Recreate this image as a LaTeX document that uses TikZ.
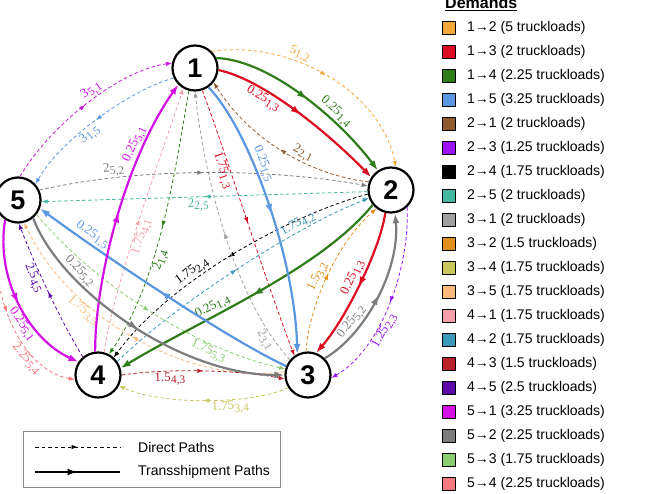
\documentclass[tikz,border=0pt]{standalone}
\usepackage{fontspec}
\setmainfont{Liberation Serif}
\setsansfont{Liberation Sans}
\usetikzlibrary{arrows.meta,decorations.markings}

\definecolor{c12}{HTML}{F5A83A}
\definecolor{c13}{HTML}{DC0C22}
\definecolor{c14}{HTML}{2E7D18}
\definecolor{c15}{HTML}{5B96E0}
\definecolor{c21}{HTML}{8E5A2E}
\definecolor{c23}{HTML}{9B14F2}
\definecolor{c24}{HTML}{000000}
\definecolor{c25}{HTML}{44B8A0}
\definecolor{c31}{HTML}{A0A0A0}
\definecolor{c32}{HTML}{E0901E}
\definecolor{c34}{HTML}{C8C65C}
\definecolor{c35}{HTML}{FCBB7C}
\definecolor{c41}{HTML}{F7A0AC}
\definecolor{c42}{HTML}{3A98B8}
\definecolor{c43}{HTML}{B8202A}
\definecolor{c45}{HTML}{5C0AA8}
\definecolor{c51}{HTML}{D210E6}
\definecolor{c52}{HTML}{7C7C7C}
\definecolor{c53}{HTML}{8CCC70}
\definecolor{c54}{HTML}{F47A80}
\definecolor{boxgray}{HTML}{8C8C8C}

\newcommand\lbl[2]{#1\raisebox{-0.45ex}{\fontsize{11.5}{12}\selectfont #2}}

\tikzset{
  city/.style={circle, draw=black, line width=2.2pt, fill=white, minimum size=45pt, inner sep=0pt,
    font=\sffamily\bfseries\fontsize{27}{27}\selectfont},
  smallmid/.style={postaction={decorate}, decoration={markings,
    mark=at position 0.5 with {\arrow{Latex[length=6pt,width=4.5pt]}}}},
  bigmid/.style={postaction={decorate}, decoration={markings,
    mark=at position 0.5 with {\arrow{Latex[length=10pt,width=7pt]}}}},
  direct/.style={line width=0.8pt, dash pattern=on 3.5pt off 2.5pt, smallmid, -{Latex[length=6pt,width=4.5pt]}},
  trans/.style={line width=2.2pt, bigmid, -{Latex[length=10pt,width=7pt]}},
  lab/.style={sloped, inner sep=1pt, font=\fontsize{13}{14}\selectfont},
  sq/.style={draw=black, line width=0.9pt, minimum size=13pt, inner sep=0pt},
  legtxt/.style={anchor=west, inner sep=0pt, font=\sffamily\fontsize{14}{16}\selectfont},
}

\begin{document}
\begin{tikzpicture}[x=1pt,y=-1pt]
\useasboundingbox (0,0) rectangle (670,494);

% cities
\node[city] (n1) at (195,68) {1};
\node[city] (n2) at (391,190) {2};
\node[city] (n3) at (308,375) {3};
\node[city] (n4) at (98,375) {4};
\node[city] (n5) at (18,200) {5};

% ---------- direct paths ----------
\draw[direct, c12] (n1.45) .. controls (290,40) and (380,90) .. (n2.78)
  node[lab, above, pos=0.36] {\lbl{5}{1,2}};
\draw[direct, c13] (n1.-72) .. controls (225,150) and (265,280) .. (n3.125)
  node[lab, below, pos=0.33] {\lbl{1.75}{1,3}};
\draw[direct, c14] (n1.-105) .. controls (175,170) and (160,280) .. (n4.62)
  node[lab, below, pos=0.62] {\lbl{2}{1,4}};
\draw[direct, c15] (n1.205) .. controls (130,90) and (60,140) .. (n5.42)
  node[lab, below, pos=0.58] {\lbl{3}{1,5}};
\draw[direct, c21] (n2.160) .. controls (310,175) and (250,140) .. (n1.-38)
  node[lab, above, pos=0.4] {\lbl{2}{2,1}};
\draw[direct, c23] (n2.-47) .. controls (410,270) and (380,350) .. (n3.-7)
  node[lab, below, pos=0.62] {\lbl{1.25}{2,3}};
\draw[direct, c24] (n2.190) .. controls (290,215) and (170,280) .. (n4.48)
  node[lab, above, pos=0.63] {\lbl{1.75}{2,4}};
\draw[direct, c25] (n2.184) -- (n5.-4)
  node[lab, below, pos=0.52] {\lbl{2}{2,5}};
\draw[direct, c31] (n3.140) .. controls (235,300) and (205,180) .. (n1.-90)
  node[lab, below, pos=0.12] {\lbl{2}{3,1}};
\draw[direct, c32] (n3.95) .. controls (310,300) and (340,240) .. (n2.232)
  node[lab, above, pos=0.45] {\lbl{1.5}{3,2}};
\draw[direct, c34] (n3.213) .. controls (250,405) and (160,405) .. (n4.-27)
  node[lab, below, pos=0.37] {\lbl{1.75}{3,4}};
\draw[direct, c35] (n3.172) .. controls (190,385) and (70,320) .. (n5.-75)
  node[lab, below, pos=0.68] {\lbl{1.75}{3,5}};
\draw[direct, c41] (n4.75) .. controls (115,280) and (160,160) .. (n1.240)
  node[lab, below, pos=0.45] {\lbl{1.75}{4,1}};
\draw[direct, c42] (n4.35) .. controls (180,300) and (300,225) .. (n2.200)
  node[lab, above=-1pt, pos=0.72] {\lbl{1.75}{4,2}};
\draw[direct, c43] (n4.0) .. controls (170,368) and (240,370) .. (n3.190)
  node[lab, below, pos=0.3] {\lbl{1.5}{4,3}};
\draw[direct, c45] (n4.130) .. controls (60,320) and (35,265) .. (n5.-88)
  node[lab, below, pos=0.62] {\lbl{2.5}{4,5}};
\draw[direct, c51] (n5.85) .. controls (50,125) and (120,70) .. (n1.168)
  node[lab, above, pos=0.55] {\lbl{3}{5,1}};
\draw[direct, c52] (n5.25) .. controls (150,165) and (280,170) .. (n2.170)
  node[lab, above, pos=0.22] {\lbl{2}{5,2}};
\draw[direct, c53] (n5.-38) .. controls (100,290) and (200,350) .. (n3.165)
  node[lab, below, pos=0.72] {\lbl{1.75}{5,3}};
\draw[direct, c54] (n5.215) .. controls (-15,290) and (20,370) .. (n4.191)
  node[lab, below, pos=0.7] {\lbl{2.25}{5,4}};

% ---------- transshipment paths ----------
\draw[trans, c14] (n1.25) .. controls (270,60) and (340,120) .. (n2.124)
  node[lab, above, pos=0.66] {\lbl{0.25}{1,4}};
\draw[trans, c13] (n1.-5) .. controls (265,80) and (330,135) .. (n2.147)
  node[lab, below, pos=0.32] {\lbl{0.25}{1,3}};
\draw[trans, c13] (n2.-104) .. controls (380,250) and (345,320) .. (n3.70)
  node[lab, above, pos=0.48] {\lbl{0.25}{1,3}};
\draw[trans, c52] (n3.45) .. controls (365,335) and (400,270) .. (n2.-80)
  node[lab, above, pos=0.3] {\lbl{0.25}{5,2}};
\draw[trans, c14] (n2.219) .. controls (320,270) and (200,320) .. (n4.17)
  node[lab, above, pos=0.64] {\lbl{0.25}{1,4}};
\draw[trans, c15] (n1.-55) .. controls (250,130) and (295,260) .. (n3.117)
  node[lab, above, pos=0.38] {\lbl{0.25}{1,5}};
\draw[trans, c15] (n3.158) .. controls (230,340) and (110,260) .. (n5.-21)
  node[lab, above, pos=0.8] {\lbl{0.25}{1,5}};
\draw[trans, c51] (n5.237) .. controls (-5,280) and (30,340) .. (n4.146)
  node[lab, below, pos=0.6] {\lbl{0.25}{5,1}};
\draw[trans, c51] (n4.97) .. controls (95,280) and (125,160) .. (n1.225)
  node[lab, above, pos=0.75] {\lbl{0.25}{5,1}};
\draw[trans, c52] (n5.-50) .. controls (60,290) and (180,375) .. (n3.180)
  node[lab, above, pos=0.27] {\lbl{0.25}{5,2}};

% ---------- path legend ----------
\draw[boxgray, line width=0.9pt] (23,431) rectangle (280,487);
\coordinate (da) at (35,447);
\coordinate (db) at (120,447);
\coordinate (sa) at (35,472);
\coordinate (sb) at (120,472);
\draw[black, line width=0.7pt, dash pattern=on 3.5pt off 3pt, smallmid] (da) -- (db);
\draw[black, line width=2.2pt, bigmid] (sa) -- (sb);
\node[legtxt] (tdirect) at (138,447) {Direct Paths};
\node[legtxt] (ttrans) at (138,472) {Transshipment Paths};

% ---------- demand legend ----------
\node[anchor=base west, inner sep=0pt, font=\sffamily\bfseries\fontsize{16}{18}\selectfont] (dem) at (445,9) {\underline{Demands}};
\foreach \c/\t [count=\i] in {
  c12/1→2 (5 truckloads), c13/1→3 (2 truckloads), c14/1→4 (2.25 truckloads),
  c15/1→5 (3.25 truckloads), c21/2→1 (2 truckloads), c23/2→3 (1.25 truckloads),
  c24/2→4 (1.75 truckloads), c25/2→5 (2 truckloads), c31/3→1 (2 truckloads),
  c32/3→2 (1.5 truckloads), c34/3→4 (1.75 truckloads), c35/3→5 (1.75 truckloads),
  c41/4→1 (1.75 truckloads), c42/4→2 (1.75 truckloads), c43/4→3 (1.5 truckloads),
  c45/4→5 (2.5 truckloads), c51/5→1 (3.25 truckloads), c52/5→2 (2.25 truckloads),
  c53/5→3 (1.75 truckloads), c54/5→4 (2.25 truckloads)} {
  \node[sq, fill=\c] (sq\i) at (449, {4+24*\i}) {};
  \node[legtxt] (tx\i) at (467, {4+24*\i}) {\t};
}
\end{tikzpicture}
\end{document}
